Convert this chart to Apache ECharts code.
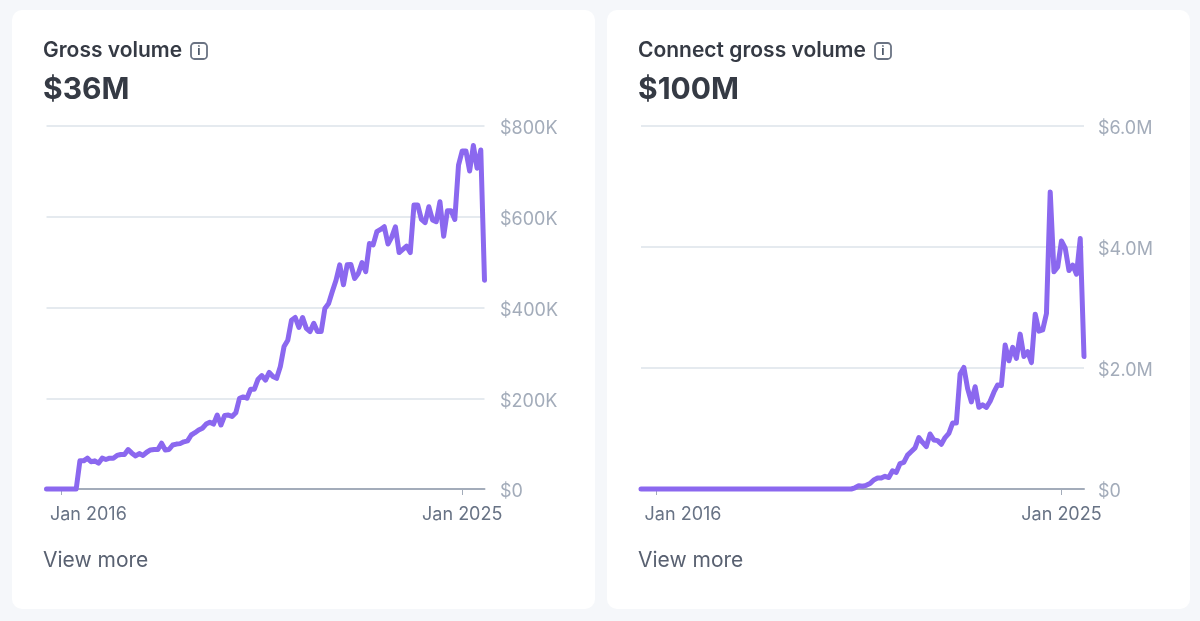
<!DOCTYPE html>
<html>
<head>
<meta charset="utf-8">
<style>
  html, body { margin: 0; padding: 0; background: #f5f7fa; }
  #chart { width: 1200px; height: 621px; }
</style>
<script src="https://cdn.jsdelivr.net/npm/echarts@6/dist/echarts.min.js"></script>
</head>
<body>
<div id="chart"></div>
<script>
// months from Sep 2015 to Jul 2025
const monthNames = ['Jan','Feb','Mar','Apr','May','Jun','Jul','Aug','Sep','Oct','Nov','Dec'];
const months = [];
for (let i = 0; i < 119; i++) {
  const m = (8 + i) % 12;
  const y = 2015 + Math.floor((8 + i) / 12);
  months.push(monthNames[m] + ' ' + y);
}
const labelledMonths = ['Jan 2016', 'Jan 2025'];

// 单位 $K
const grossVolume = [
  0, 0, 0, 0, 0, 0, 0, 0, 0, 62,
  62, 68, 60, 62, 57, 68, 65, 68, 68, 74,
  76, 76, 87, 79, 73, 78, 74, 81, 86, 87,
  87, 101, 86, 87, 97, 99, 100, 104, 106, 119,
  124, 130, 134, 143, 147, 143, 163, 141, 162, 163,
  160, 168, 200, 203, 200, 220, 220, 242, 250, 240,
  257, 248, 244, 270, 314, 328, 372, 378, 356, 378,
  354, 347, 365, 347, 347, 398, 409, 435, 460, 494,
  450, 494, 495, 464, 475, 499, 479, 541, 538, 567,
  572, 578, 540, 555, 578, 521, 528, 535, 521, 626,
  626, 594, 587, 622, 593, 589, 633, 557, 613, 613,
  594, 714, 745, 745, 701, 757, 707, 747, 460
];

// 单位 $M
const connectVolume = [
  0, 0, 0, 0, 0, 0, 0, 0, 0, 0,
  0, 0, 0, 0, 0, 0, 0, 0, 0, 0,
  0, 0, 0, 0, 0, 0, 0, 0, 0, 0,
  0, 0, 0, 0, 0, 0, 0, 0, 0, 0,
  0, 0, 0, 0, 0, 0, 0, 0, 0, 0,
  0, 0, 0, 0, 0, 0, 0, 0.02, 0.055, 0.045,
  0.06, 0.09, 0.15, 0.18, 0.18, 0.21, 0.19, 0.30, 0.275, 0.42,
  0.44, 0.56, 0.62, 0.68, 0.85, 0.77, 0.70, 0.91, 0.81, 0.80,
  0.74, 0.85, 0.92, 1.09, 1.09, 1.90, 2.01, 1.66, 1.44, 1.69,
  1.35, 1.39, 1.35, 1.45, 1.60, 1.72, 1.71, 2.38, 2.12, 2.34,
  2.16, 2.56, 2.19, 2.27, 2.09, 2.89, 2.61, 2.63, 2.90, 4.91,
  3.59, 3.67, 4.10, 3.98, 3.61, 3.70, 3.55, 4.14, 2.19
];

const grossTicks = ['$0', '$200K', '$400K', '$600K', '$800K'];
const connectTicks = ['$0', '$2.0M', '$4.0M', '$6.0M'];

const fontFamily = 'Inter, "Noto Sans", sans-serif';
const chart = echarts.init(document.getElementById('chart'), null, { renderer: 'canvas' });

function xAxisFor(gridIndex) {
  return {
    type: 'category',
    gridIndex: gridIndex,
    data: months,
    boundaryGap: false,
    axisLine: { lineStyle: { color: '#a3acba', width: 2 } },
    axisTick: {
      length: 6,
      lineStyle: { color: '#a3acba' },
      interval: (i, v) => labelledMonths.includes(v)
    },
    axisLabel: {
      interval: (i, v) => labelledMonths.includes(v),
      hideOverlap: false,
      margin: 17,
      color: '#687385',
      fontSize: 18,
      fontFamily: fontFamily,
      formatter: v => v === 'Jan 2016' ? '{first|' + v + '}' : v,
      rich: {
        // 第一个标签不居中于刻度
        first: { color: '#687385', fontSize: 18, fontFamily: fontFamily, padding: [0, 0, 0, 54] }
      }
    }
  };
}

function yAxisFor(gridIndex, ticks, max, interval, margin) {
  return {
    type: 'value',
    gridIndex: gridIndex,
    position: 'right',
    min: 0,
    max: max,
    interval: interval,
    axisLine: { show: false },
    axisTick: { show: false },
    splitLine: { lineStyle: { color: '#dde3ea', width: 1.5 } },
    axisLabel: {
      margin: margin,
      color: '#a3acba',
      fontSize: 18,
      fontFamily: fontFamily,
      formatter: v => '{tick|' + ticks[Math.round(v / interval)] + '}',
      rich: {
        // 标签比网格线略低
        tick: { color: '#a3acba', fontSize: 18, fontFamily: fontFamily, padding: [6, 0, 0, 0] }
      }
    }
  };
}

function lineFor(index, values) {
  return {
    type: 'line',
    xAxisIndex: index,
    yAxisIndex: index,
    data: values,
    symbol: 'none',
    smooth: false,
    clip: false,
    lineStyle: { color: '#8b68ef', width: 5, join: 'round', cap: 'round' },
    z: 5
  };
}

function cardGraphics(left, iconX) {
  return [
    { type: 'rect', z: -10, shape: { x: left, y: 10, width: 583, height: 599, r: 10 }, style: { fill: '#ffffff' } },
    { type: 'rect', shape: { x: iconX, y: 43, width: 16, height: 16, r: 3.5 }, style: { fill: 'none', stroke: '#6a7383', lineWidth: 1.8 } },
    { type: 'text', style: { x: iconX + 8, y: 51, text: 'i', fill: '#4f5b6b', font: '700 12px ' + fontFamily, align: 'center', verticalAlign: 'middle' } },
    { type: 'text', style: { x: left + 31, y: 561, text: 'View more', fill: '#596171', font: '400 21px ' + fontFamily, align: 'left', verticalAlign: 'middle' } }
  ];
}

chart.setOption({
  animation: false,
  backgroundColor: '#f5f7fa',
  title: [
    { text: 'Gross volume', left: 43, top: 40, padding: 0, textStyle: { color: '#353a44', fontSize: 21, fontWeight: 600, fontFamily: fontFamily } },
    { text: '$36M', left: 43, top: 75, padding: 0, textStyle: { color: '#353a44', fontSize: 30, fontWeight: 700, fontFamily: fontFamily } },
    { text: 'Connect gross volume', left: 638, top: 40, padding: 0, textStyle: { color: '#353a44', fontSize: 21, fontWeight: 600, fontFamily: fontFamily } },
    { text: '$100M', left: 638, top: 75, padding: 0, textStyle: { color: '#353a44', fontSize: 30, fontWeight: 700, fontFamily: fontFamily } }
  ],
  grid: [
    { left: 46.5, top: 126, width: 438, height: 363 },
    { left: 641, top: 126, width: 443, height: 363 }
  ],
  xAxis: [xAxisFor(0), xAxisFor(1)],
  yAxis: [
    yAxisFor(0, grossTicks, 800, 200, 15.5),
    yAxisFor(1, connectTicks, 6, 2, 14)
  ],
  series: [lineFor(0, grossVolume), lineFor(1, connectVolume)],
  graphic: { elements: cardGraphics(12, 191).concat(cardGraphics(607, 875)) }
});
</script>
</body>
</html>
